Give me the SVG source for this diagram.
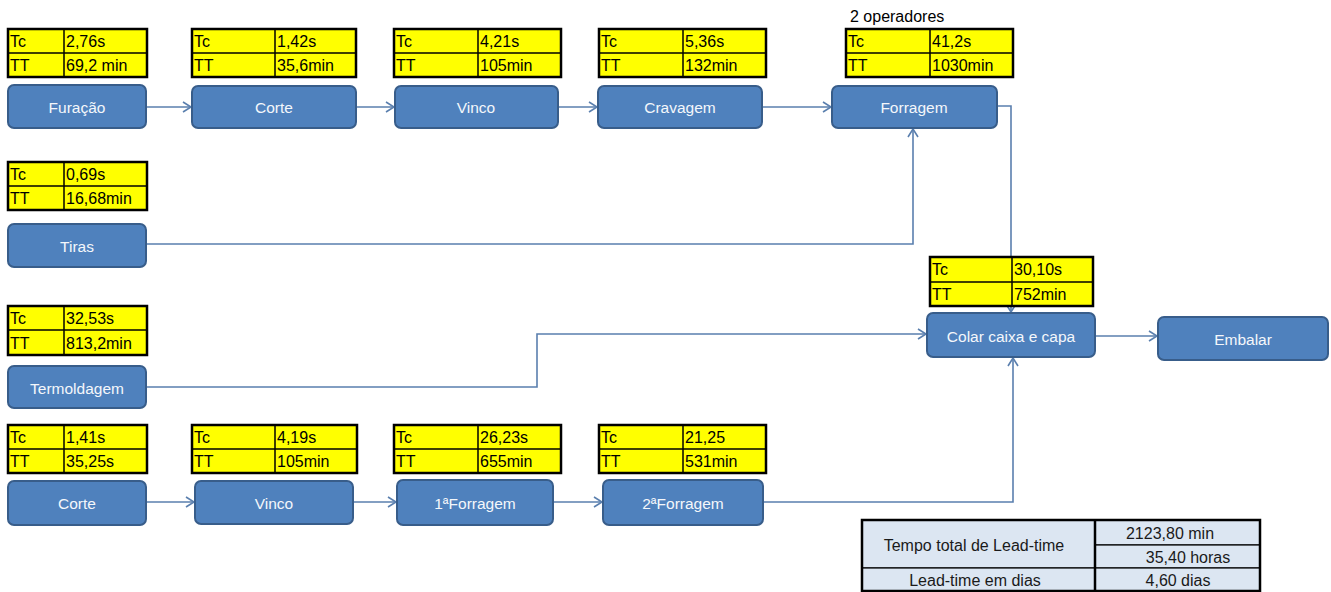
<svg xmlns="http://www.w3.org/2000/svg" width="1331" height="592" viewBox="0 0 1331 592">
  <style>
    .box { fill: #4f81bd; stroke: #385d8a; stroke-width: 2; }
    .lbl { font-family: "Liberation Sans", Arial, sans-serif; font-size: 15.5px; fill: #f4f7fb; text-anchor: middle; dominant-baseline: central; }
    .tbl { fill: #ffff00; stroke: #000000; stroke-width: 2.5; }
    .grid { stroke: #000000; stroke-width: 1.5; }
    .tt { font-family: "Liberation Sans", Arial, sans-serif; font-size: 16px; fill: #000000; dominant-baseline: central; }
    .conn { fill: none; stroke: #5a7fae; stroke-width: 1.6; marker-end: url(#arrow); }
    .lt { fill: #dce6f2; stroke: #000000; stroke-width: 1.2; }
    .ltText { font-family: "Liberation Sans", Arial, sans-serif; font-size: 16px; fill: #1a1a1a; text-anchor: middle; dominant-baseline: central; }
  </style>
  <defs>
    <marker id="arrow" markerUnits="userSpaceOnUse" markerWidth="12" markerHeight="12" refX="9" refY="6" orient="auto">
      <path d="M1,1 L9,6 L1,11" fill="none" stroke="#5a7fae" stroke-width="1.6"/>
    </marker>
  </defs>

  <rect width="1331" height="592" fill="#ffffff"/>

  <!-- connectors -->
  <g id="connectors">
    <path class="conn" d="M146,107 H191"/>
    <path class="conn" d="M356,107 H394"/>
    <path class="conn" d="M558,107 H597"/>
    <path class="conn" d="M762,107 H831"/>
    <path class="conn" d="M146,244 H913 V129"/>
    <path class="conn" d="M997,106 H1011 V312"/>
    <path class="conn" d="M146,387 H537 V334 H926"/>
    <path class="conn" d="M1095,336 H1157"/>
    <path class="conn" d="M146,502 H194"/>
    <path class="conn" d="M353,502 H396"/>
    <path class="conn" d="M553,502 H602"/>
    <path class="conn" d="M763,502 H1013 V358"/>
  </g>

  <!-- upper line -->
  <g id="furacao">
    <rect class="tbl" x="8" y="29" width="139" height="48"/>
    <line class="grid" x1="8" y1="53" x2="147" y2="53"/><line class="grid" x1="64" y1="29" x2="64" y2="77"/>
    <text class="tt" x="10" y="41">Tc</text><text class="tt" x="66" y="41">2,76s</text>
    <text class="tt" x="10" y="65">TT</text><text class="tt" x="66" y="65">69,2 min</text>
    <rect class="box" x="8" y="85" width="138" height="43" rx="6"/>
    <text class="lbl" x="77" y="107">Furação</text>
  </g>
  <g id="corte">
    <rect class="tbl" x="192" y="29" width="164" height="48"/>
    <line class="grid" x1="192" y1="53" x2="356" y2="53"/><line class="grid" x1="275" y1="29" x2="275" y2="77"/>
    <text class="tt" x="194" y="41">Tc</text><text class="tt" x="277" y="41">1,42s</text>
    <text class="tt" x="194" y="65">TT</text><text class="tt" x="277" y="65">35,6min</text>
    <rect class="box" x="192" y="86" width="164" height="42" rx="6"/>
    <text class="lbl" x="274" y="107">Corte</text>
  </g>
  <g id="vinco">
    <rect class="tbl" x="394" y="29" width="167" height="48"/>
    <line class="grid" x1="394" y1="53" x2="561" y2="53"/><line class="grid" x1="478" y1="29" x2="478" y2="77"/>
    <text class="tt" x="396" y="41">Tc</text><text class="tt" x="480" y="41">4,21s</text>
    <text class="tt" x="396" y="65">TT</text><text class="tt" x="480" y="65">105min</text>
    <rect class="box" x="395" y="86" width="163" height="42" rx="6"/>
    <text class="lbl" x="476" y="107">Vinco</text>
  </g>
  <g id="cravagem">
    <rect class="tbl" x="599" y="29" width="167" height="48"/>
    <line class="grid" x1="599" y1="53" x2="766" y2="53"/><line class="grid" x1="683" y1="29" x2="683" y2="77"/>
    <text class="tt" x="601" y="41">Tc</text><text class="tt" x="685" y="41">5,36s</text>
    <text class="tt" x="601" y="65">TT</text><text class="tt" x="685" y="65">132min</text>
    <rect class="box" x="598" y="86" width="164" height="42" rx="6"/>
    <text class="lbl" x="680" y="107">Cravagem</text>
  </g>
  <g id="forragem">
    <text class="tt" x="850" y="16">2 operadores</text>
    <rect class="tbl" x="846" y="29" width="167" height="48"/>
    <line class="grid" x1="846" y1="53" x2="1013" y2="53"/><line class="grid" x1="930" y1="29" x2="930" y2="77"/>
    <text class="tt" x="848" y="41">Tc</text><text class="tt" x="932" y="41">41,2s</text>
    <text class="tt" x="848" y="65">TT</text><text class="tt" x="932" y="65">1030min</text>
    <rect class="box" x="832" y="86" width="165" height="42" rx="6"/>
    <text class="lbl" x="914" y="107">Forragem</text>
  </g>

  <g id="tiras">
    <rect class="tbl" x="8" y="162" width="139" height="48"/>
    <line class="grid" x1="8" y1="186" x2="147" y2="186"/><line class="grid" x1="64" y1="162" x2="64" y2="210"/>
    <text class="tt" x="10" y="174">Tc</text><text class="tt" x="66" y="174">0,69s</text>
    <text class="tt" x="10" y="198">TT</text><text class="tt" x="66" y="198">16,68min</text>
    <rect class="box" x="8" y="224" width="138" height="43" rx="6"/>
    <text class="lbl" x="77" y="246">Tiras</text>
  </g>

  <g id="termoldagem">
    <rect class="tbl" x="8" y="306" width="139" height="49"/>
    <line class="grid" x1="8" y1="330" x2="147" y2="330"/><line class="grid" x1="64" y1="306" x2="64" y2="355"/>
    <text class="tt" x="10" y="318">Tc</text><text class="tt" x="66" y="318">32,53s</text>
    <text class="tt" x="10" y="343">TT</text><text class="tt" x="66" y="343">813,2min</text>
    <rect class="box" x="8" y="366" width="138" height="42" rx="6"/>
    <text class="lbl" x="77" y="388">Termoldagem</text>
  </g>

  <g id="colar">
    <rect class="tbl" x="930" y="257" width="163" height="49"/>
    <line class="grid" x1="930" y1="282" x2="1093" y2="282"/><line class="grid" x1="1012" y1="257" x2="1012" y2="306"/>
    <text class="tt" x="932" y="269">Tc</text><text class="tt" x="1014" y="269">30,10s</text>
    <text class="tt" x="932" y="294">TT</text><text class="tt" x="1014" y="294">752min</text>
    <rect class="box" x="927" y="313" width="168" height="44" rx="6"/>
    <text class="lbl" x="1011" y="336">Colar caixa e capa</text>
  </g>
  <g id="embalar">
    <rect class="box" x="1158" y="317" width="170" height="43" rx="6"/>
    <text class="lbl" x="1243" y="339">Embalar</text>
  </g>

  <!-- lower line -->
  <g id="corte2">
    <rect class="tbl" x="8" y="425" width="139" height="48"/>
    <line class="grid" x1="8" y1="449" x2="147" y2="449"/><line class="grid" x1="64" y1="425" x2="64" y2="473"/>
    <text class="tt" x="10" y="437">Tc</text><text class="tt" x="66" y="437">1,41s</text>
    <text class="tt" x="10" y="461">TT</text><text class="tt" x="66" y="461">35,25s</text>
    <rect class="box" x="8" y="481" width="138" height="44" rx="6"/>
    <text class="lbl" x="77" y="503">Corte</text>
  </g>
  <g id="vinco2">
    <rect class="tbl" x="192" y="425" width="165" height="48"/>
    <line class="grid" x1="192" y1="449" x2="357" y2="449"/><line class="grid" x1="275" y1="425" x2="275" y2="473"/>
    <text class="tt" x="194" y="437">Tc</text><text class="tt" x="277" y="437">4,19s</text>
    <text class="tt" x="194" y="461">TT</text><text class="tt" x="277" y="461">105min</text>
    <rect class="box" x="195" y="481" width="158" height="43" rx="6"/>
    <text class="lbl" x="274" y="503">Vinco</text>
  </g>
  <g id="forragem1">
    <rect class="tbl" x="394" y="425" width="167" height="48"/>
    <line class="grid" x1="394" y1="449" x2="561" y2="449"/><line class="grid" x1="478" y1="425" x2="478" y2="473"/>
    <text class="tt" x="396" y="437">Tc</text><text class="tt" x="480" y="437">26,23s</text>
    <text class="tt" x="396" y="461">TT</text><text class="tt" x="480" y="461">655min</text>
    <rect class="box" x="397" y="480" width="156" height="45" rx="6"/>
    <text class="lbl" x="475" y="503">1ªForragem</text>
  </g>
  <g id="forragem2">
    <rect class="tbl" x="599" y="425" width="167" height="48"/>
    <line class="grid" x1="599" y1="449" x2="766" y2="449"/><line class="grid" x1="683" y1="425" x2="683" y2="473"/>
    <text class="tt" x="601" y="437">Tc</text><text class="tt" x="685" y="437">21,25</text>
    <text class="tt" x="601" y="461">TT</text><text class="tt" x="685" y="461">531min</text>
    <rect class="box" x="603" y="480" width="160" height="45" rx="6"/>
    <text class="lbl" x="683" y="503">2ªForragem</text>
  </g>

  <!-- lead-time summary -->
  <g id="leadtime">
    <rect class="lt" x="862" y="520" width="233" height="48"/>
    <rect class="lt" x="862" y="568" width="233" height="23"/>
    <rect class="lt" x="1095" y="520" width="165" height="25"/>
    <rect class="lt" x="1095" y="545" width="165" height="23"/>
    <rect class="lt" x="1095" y="568" width="165" height="23"/>
    <rect x="862" y="520" width="398" height="71" fill="none" stroke="#000000" stroke-width="2.5"/>
    <line x1="1095" y1="520" x2="1095" y2="591" stroke="#000000" stroke-width="2.5"/>
    <text class="ltText" x="974" y="545">Tempo total de Lead-time</text>
    <text class="ltText" x="975" y="580">Lead-time em dias</text>
    <text class="ltText" x="1170" y="533">2123,80 min</text>
    <text class="ltText" x="1188" y="557">35,40 horas</text>
    <text class="ltText" x="1178" y="580">4,60 dias</text>
  </g>
</svg>
